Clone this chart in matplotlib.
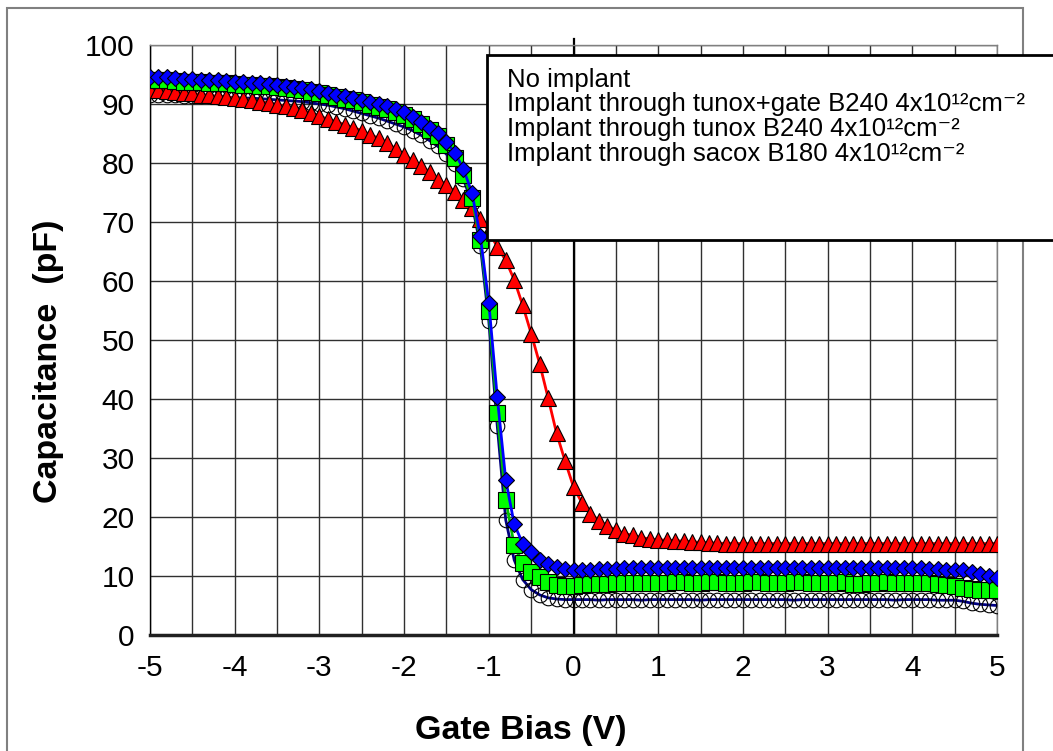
import numpy as np
import matplotlib
matplotlib.use('Agg')
import matplotlib.pyplot as plt
from matplotlib.patches import Rectangle

plt.rcParams['font.family'] = ['Liberation Sans', 'DejaVu Sans']

# Gate bias sweep, 0.1 V step from -5 V to +5 V
bias = np.round(np.arange(-5.0, 5.001, 0.1), 1)

no_implant = [
    91.6, 91.6, 91.5, 91.5, 91.4, 91.4, 91.3, 91.3, 91.2, 91.2,
    91.1, 91.0, 91.0, 90.9, 90.8, 90.7, 90.6, 90.5, 90.4, 90.2,
    90.0, 89.8, 89.5, 89.2, 88.8, 88.4, 88.0, 87.6, 87.1, 86.6,
    86.1, 85.5, 84.7, 83.8, 82.8, 81.5, 79.8, 77.3, 73.2, 66.0,
    53.2, 35.4, 19.5, 12.7, 9.4, 7.7, 6.8, 6.3, 6.1, 6.0,
    6.0, 6.0, 6.0, 5.9, 6.0, 6.0, 6.0, 6.0, 5.9, 6.0,
    6.0, 6.0, 6.0, 6.0, 6.0, 5.9, 6.0, 6.0, 6.0, 6.0,
    6.0, 6.0, 6.0, 6.0, 6.0, 6.0, 5.9, 6.0, 6.0, 6.0,
    6.0, 6.0, 6.0, 6.0, 6.0, 6.0, 6.0, 6.0, 5.9, 6.0,
    6.0, 6.0, 6.0, 5.9, 5.9, 5.9, 5.7, 5.4, 5.2, 5.1,
    5.0,
]

tunox_gate = [
    92.4, 92.3, 92.2, 92.0, 91.9, 91.8, 91.6, 91.5, 91.3, 91.2,
    91.0, 90.8, 90.6, 90.4, 90.2, 89.9, 89.6, 89.3, 88.9, 88.5,
    88.0, 87.4, 87.0, 86.5, 86.0, 85.5, 84.8, 84.2, 83.4, 82.4,
    81.4, 80.5, 79.5, 78.5, 77.2, 76.3, 75.1, 73.8, 72.3, 70.5,
    68.4, 65.8, 63.5, 60.2, 55.9, 51.1, 46.0, 40.2, 34.2, 29.5,
    25.1, 22.4, 20.5, 19.4, 18.5, 17.8, 17.2, 16.9, 16.5, 16.3,
    16.1, 16.1, 16.0, 15.9, 15.8, 15.7, 15.6, 15.6, 15.5, 15.5,
    15.5, 15.5, 15.5, 15.5, 15.5, 15.5, 15.5, 15.5, 15.5, 15.5,
    15.5, 15.5, 15.5, 15.5, 15.5, 15.5, 15.5, 15.5, 15.5, 15.5,
    15.5, 15.5, 15.5, 15.5, 15.5, 15.5, 15.5, 15.5, 15.5, 15.5,
    15.5,
]

tunox = [
    94.1, 94.0, 94.0, 93.9, 93.8, 93.8, 93.7, 93.6, 93.5, 93.5,
    93.4, 93.3, 93.2, 93.1, 93.0, 92.8, 92.7, 92.5, 92.3, 92.1,
    91.8, 91.5, 91.2, 90.9, 90.6, 90.3, 89.9, 89.5, 89.1, 88.6,
    88.1, 87.4, 86.6, 85.6, 84.5, 83.0, 80.8, 77.9, 74.0, 67.0,
    55.0, 37.7, 22.9, 15.2, 12.2, 10.7, 9.9, 9.0, 8.5, 8.3,
    8.3, 8.5, 8.6, 8.7, 8.7, 8.8, 8.8, 8.8, 8.8, 8.8,
    8.8, 8.8, 8.9, 8.9, 8.8, 8.8, 8.9, 8.9, 8.8, 8.8,
    8.8, 8.9, 8.9, 8.8, 8.8, 8.8, 8.9, 8.9, 8.8, 8.8,
    8.8, 8.8, 8.9, 8.6, 8.6, 8.8, 8.8, 8.9, 8.8, 8.8,
    8.8, 8.8, 8.8, 8.6, 8.5, 8.3, 8.0, 7.8, 7.6, 7.6,
    7.6,
]

sacox = [
    94.6, 94.5, 94.5, 94.4, 94.3, 94.2, 94.1, 94.1, 94.0, 93.9,
    93.8, 93.7, 93.6, 93.5, 93.4, 93.2, 93.1, 92.9, 92.7, 92.5,
    92.2, 91.9, 91.6, 91.3, 91.0, 90.7, 90.4, 90.0, 89.6, 89.2,
    88.6, 87.8, 86.9, 86.0, 85.0, 83.6, 81.7, 79.0, 75.0, 67.6,
    56.3, 40.3, 26.3, 18.8, 15.5, 14.0, 12.7, 12.0, 11.5, 11.2,
    11.0, 11.1, 11.1, 11.2, 11.2, 11.2, 11.3, 11.3, 11.3, 11.3,
    11.3, 11.3, 11.3, 11.3, 11.3, 11.3, 11.3, 11.3, 11.3, 11.3,
    11.3, 11.3, 11.3, 11.3, 11.3, 11.3, 11.3, 11.3, 11.3, 11.3,
    11.3, 11.3, 11.3, 11.3, 11.3, 11.3, 11.3, 11.3, 11.3, 11.3,
    11.3, 11.3, 11.2, 11.2, 11.1, 11.1, 11.0, 10.7, 10.4, 10.0,
    9.6,
]

labels = [
    'No implant',
    'Implant through tunox+gate B240 4x10\u00b9\u00b2cm\u207b\u00b2',
    'Implant through tunox B240 4x10\u00b9\u00b2cm\u207b\u00b2',
    'Implant through sacox B180 4x10\u00b9\u00b2cm\u207b\u00b2',
]

W, H = 1053, 751
fig = plt.figure(figsize=(W / 100, H / 100), dpi=100)
ax = fig.add_axes([150 / W, (H - 635) / H, (997 - 150) / W, (635 - 45) / H])

# grid
ax.set_xticks(np.arange(-5, 5.01, 0.5), minor=True)
ax.set_xticks(np.arange(-5, 6, 1))
ax.set_yticks(np.arange(0, 101, 10))
ax.grid(True, which='both', axis='x', color='#303030', lw=1.0)
ax.grid(True, which='major', axis='y', color='#303030', lw=1.0)
ax.set_axisbelow(True)

# y axis crossing at 0 V
ax.plot([0, 0], [0, 101], color='black', lw=1.6, clip_on=False, zorder=1.5)

ax.plot(bias, no_implant, color='#000080', lw=2, marker='o', ms=10.5,
        mfc='none', mec='black', mew=0.8, zorder=3)
ax.plot(bias, tunox_gate, color='#FF0000', lw=2, marker='^', ms=12,
        mfc='#FF0000', mec='black', mew=0.8, zorder=3)
ax.plot(bias, tunox, color='#00C000', lw=2, marker='s', ms=11,
        mfc='#00FF00', mec='black', mew=0.8, zorder=3)
ax.plot(bias, sacox, color='#0000FF', lw=2, marker='D', ms=8.5,
        mfc='#0000FF', mec='black', mew=0.8, zorder=3)

ax.set_xlim(-5, 5)
ax.set_ylim(0, 100)
ax.tick_params(axis='both', which='both', length=0, labelsize=21.5)
ax.tick_params(axis='y', pad=11)
ax.tick_params(axis='x', pad=14)
ax.set_xticklabels([str(v) for v in range(-5, 6)])

for side in ['top', 'right']:
    ax.spines[side].set_color('#808080')
    ax.spines[side].set_linewidth(1)
ax.spines['left'].set_color('black')
ax.spines['left'].set_linewidth(1)
ax.spines['bottom'].set_color('#202020')
ax.spines['bottom'].set_linewidth(2.5)

ax.set_xlabel('Gate Bias (V)', fontsize=24.5, fontweight='bold')
ax.set_ylabel('Capacitance  (pF)', fontsize=24.5, fontweight='bold')
ax.xaxis.set_label_coords(0.438, -0.135)
ax.yaxis.set_label_coords(-0.101, 0.464)

# outer chart border
fig.add_artist(Rectangle((7 / W, -0.05), (1023 - 7) / W, 1.05 - 8 / H,
                         transform=fig.transFigure, fill=False,
                         edgecolor='#808080', lw=1.5))

# legend box (text only)
fig.add_artist(Rectangle((487 / W, (H - 240) / H), 0.6, (240 - 55) / H,
                         transform=fig.transFigure, facecolor='white',
                         edgecolor='black', lw=2, zorder=5))
for i, lab in enumerate(labels):
    fig.text(507 / W, (H - 80 - i * 24.5) / H, lab, fontsize=18.5,
             va='center', ha='left', zorder=6)

fig.savefig('out.png', dpi=100)
